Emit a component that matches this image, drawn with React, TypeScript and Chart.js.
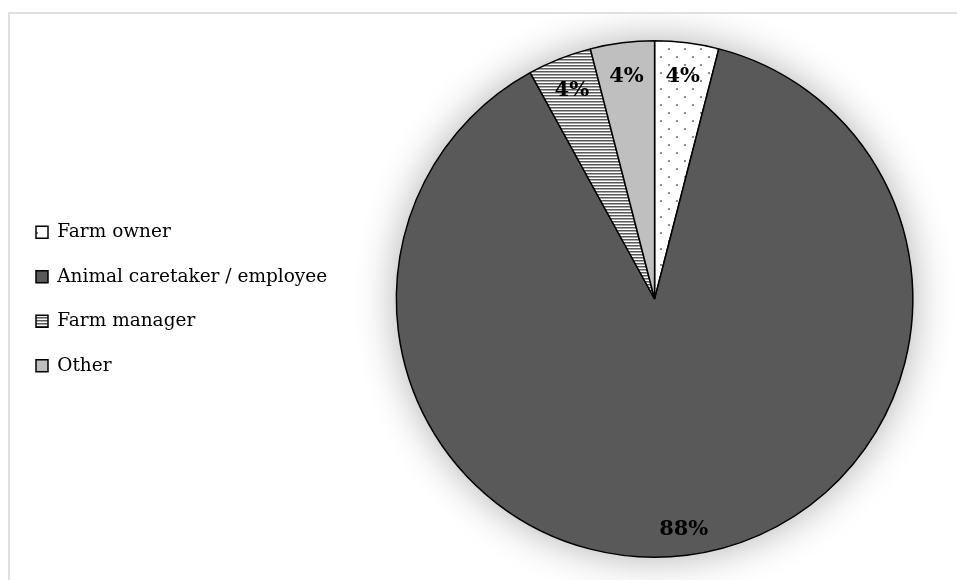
import React, { useEffect, useRef } from "react";
import { Chart, registerables } from "chart.js";

Chart.register(...registerables);

const categories = ["Farm owner", "Animal caretaker / employee", "Farm manager", "Other"];
const shares = [4, 88, 4, 4];
const valueLabels = ["4%", "88%", "4%", "4%"];

function makeDots(): CanvasPattern | string {
  const c = document.createElement("canvas");
  c.width = 16;
  c.height = 16;
  const g = c.getContext("2d");
  if (!g) return "#fff";
  g.fillStyle = "#ffffff";
  g.fillRect(0, 0, 16, 16);
  g.fillStyle = "#8a8a8a";
  g.fillRect(2, 2, 2, 2);
  g.fillRect(10, 10, 2, 2);
  return g.createPattern(c, "repeat") || "#fff";
}

function makeStripes(): CanvasPattern | string {
  const c = document.createElement("canvas");
  c.width = 4;
  c.height = 3;
  const g = c.getContext("2d");
  if (!g) return "#888";
  g.fillStyle = "#ffffff";
  g.fillRect(0, 0, 4, 3);
  g.fillStyle = "#5a5a5a";
  g.fillRect(0, 0, 4, 1);
  g.fillStyle = "#a8a8a8";
  g.fillRect(0, 1, 4, 1);
  return g.createPattern(c, "repeat") || "#888";
}

const shadowPlugin = {
  id: "pieShadow",
  beforeDatasetsDraw(chart: any) {
    const meta = chart.getDatasetMeta(0);
    const arc = meta.data[0];
    if (!arc) return;
    const { x, y, outerRadius } = arc.getProps(["x", "y", "outerRadius"], true);
    const ctx = chart.ctx;
    ctx.save();
    ctx.shadowColor = "rgba(0,0,0,0.32)";
    ctx.shadowBlur = 40;
    ctx.fillStyle = "#ffffff";
    ctx.beginPath();
    ctx.arc(x, y, outerRadius, 0, Math.PI * 2);
    ctx.fill();
    ctx.restore();
  },
};

const labelPlugin = {
  id: "sliceLabels",
  afterDatasetsDraw(chart: any) {
    const meta = chart.getDatasetMeta(0);
    const ctx = chart.ctx;
    ctx.save();
    ctx.font = "bold 21px 'DejaVu Serif', serif";
    ctx.fillStyle = "#000";
    ctx.textAlign = "center";
    ctx.textBaseline = "middle";
    meta.data.forEach((arc: any, i: number) => {
      const { x, y, startAngle, endAngle, outerRadius } = arc.getProps(
        ["x", "y", "startAngle", "endAngle", "outerRadius"],
        true
      );
      const mid = (startAngle + endAngle) / 2;
      const f = shares[i] > 50 ? 0.9 : 0.87;
      ctx.fillText(valueLabels[i], x + Math.cos(mid) * outerRadius * f, y + Math.sin(mid) * outerRadius * f);
    });
    ctx.restore();
  },
};

export default function App() {
  const ref = useRef<HTMLCanvasElement | null>(null);
  useEffect(() => {
    if (!ref.current) return;
    const fills = [makeDots(), "#595959", makeStripes(), "#bfbfbf"];
    const chart = new Chart(ref.current, {
      type: "pie",
      data: {
        labels: categories,
        datasets: [
          {
            data: shares,
            backgroundColor: fills as any,
            borderColor: "#000000",
            borderWidth: 1.5,
          },
        ],
      },
      options: {
        animation: false,
        responsive: false,
        maintainAspectRatio: false,
        layout: { padding: { left: 0, top: 26, bottom: 22, right: 0 } },
        plugins: {
          tooltip: { enabled: false },
          legend: {
            position: "left",
            labels: {
              boxWidth: 12,
              boxHeight: 12,
              padding: 26,
              color: "#000",
              font: { family: "'DejaVu Serif', serif", size: 18.5 },
            },
          },
        },
      },
      plugins: [shadowPlugin, labelPlugin],
    });
    return () => chart.destroy();
  }, []);
  return (
    <div
      style={{
        position: "absolute",
        left: 8,
        top: 12,
        width: 949,
        height: 568,
        borderTop: "2px solid #e0e0e0",
        borderLeft: "2px solid #e0e0e0",
        boxSizing: "border-box",
        overflow: "hidden",
      }}
    >
      <canvas ref={ref} width={962} height={566} style={{ display: "block" }} />
    </div>
  );
}
